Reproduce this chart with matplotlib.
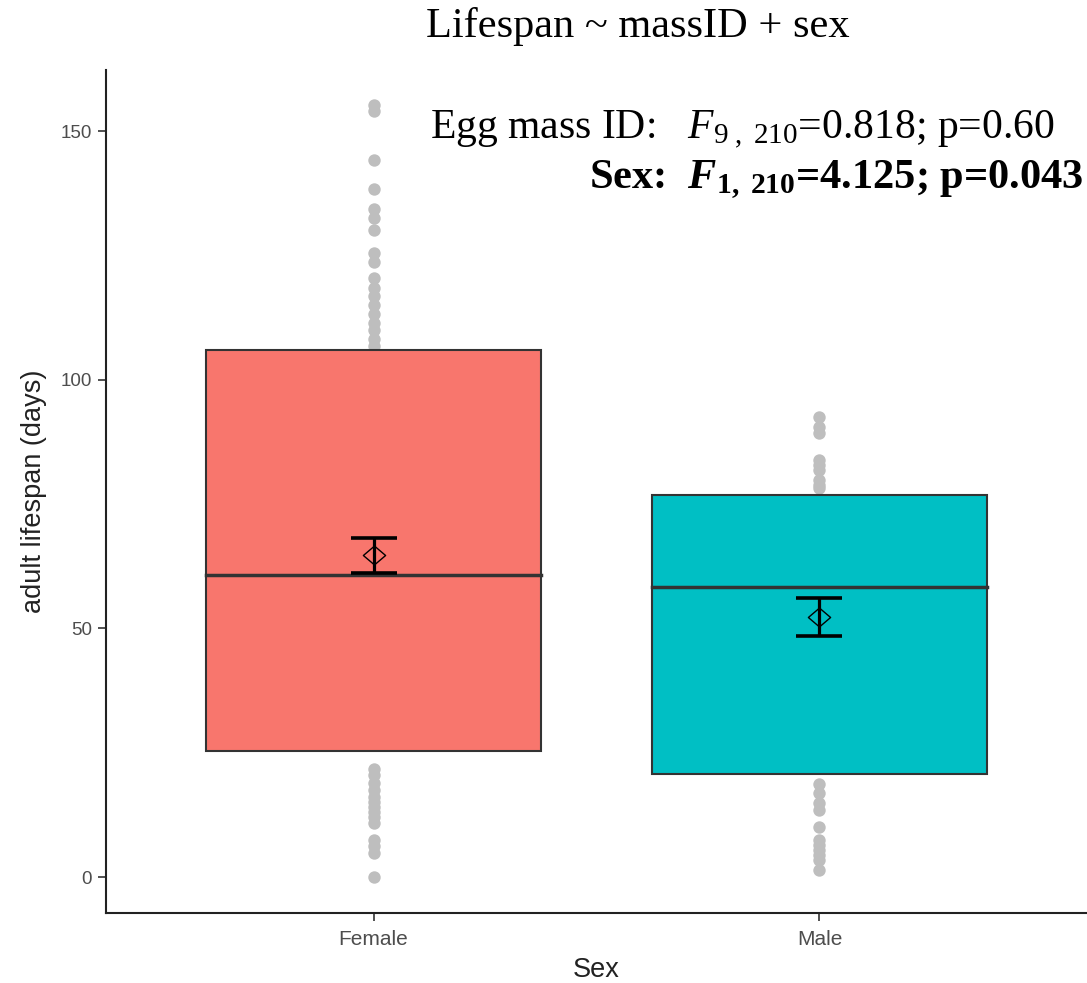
import matplotlib
matplotlib.use("Agg")
import matplotlib.pyplot as plt
from matplotlib.path import Path

plt.rcParams['font.family'] = ['Liberation Sans', 'DejaVu Sans']
plt.rcParams['mathtext.fontset'] = 'custom'
plt.rcParams['mathtext.rm'] = 'Liberation Serif'
plt.rcParams['mathtext.it'] = 'Liberation Serif:italic'
plt.rcParams['mathtext.bf'] = 'Liberation Serif:bold'
plt.rcParams['mathtext.bfit'] = 'Liberation Serif:italic:bold'

# data
sexes = ['Female', 'Male']
box_fill = ['#F8766D', '#00BFC4']
q1 = [25.3, 20.7]
median = [60.7, 58.3]
q3 = [106.0, 76.8]
mean = [64.7, 52.3]
se_low = [61.1, 48.5]
se_high = [68.2, 56.1]

# raw lifespans visible outside the boxes
female_pts = [155.2, 154.0, 144.3, 138.3, 134.4, 132.5, 130.2, 125.4, 123.7,
              120.4, 118.5, 116.8, 115.0, 113.2, 111.5, 110.0, 108.2, 106.8,
              21.8, 20.5, 18.9, 17.5, 16.0, 15.0, 14.0, 13.0, 12.0, 10.9,
              7.4, 6.2, 4.8, 0.0]
male_pts = [92.5, 90.5, 89.2, 83.8, 82.8, 81.8, 79.8, 78.9, 78.2,
            18.8, 16.9, 14.9, 13.5, 10.1, 7.4, 6.4, 5.4, 4.4, 3.4, 1.4]

# slightly flattened diamond like the reference
diamond = Path([(-1, 0), (0, 0.85), (1, 0), (0, -0.85), (-1, 0)],
               [Path.MOVETO, Path.LINETO, Path.LINETO, Path.LINETO, Path.CLOSEPOLY])

fig = plt.figure(figsize=(10.87, 9.83), dpi=100)
ax = fig.add_axes([106 / 1087, 70 / 983, 981 / 1087, 843 / 983])

xs = [1, 2]
for x, pts in zip(xs, [female_pts, male_pts]):
    ax.scatter([x] * len(pts), pts, s=80, color='#BEBEBE', zorder=1, linewidths=0)

ax.bar(xs, [b - a for a, b in zip(q1, q3)], bottom=q1, width=0.75,
       color=box_fill, edgecolor='#333333', linewidth=1.5, zorder=2)
for x, m in zip(xs, median):
    ax.plot([x - 0.375, x + 0.375], [m, m], color='#333333', lw=2.5, zorder=3)

for x, m, lo, hi in zip(xs, mean, se_low, se_high):
    ax.errorbar(x, m, yerr=[[m - lo], [hi - m]], fmt='none', ecolor='black',
                elinewidth=2.3, capsize=16.5, capthick=2.6, zorder=4)
    ax.plot(x, m, marker=diamond, markersize=16, mfc='none', mec='black',
            mew=1.0, zorder=5)

ax.set_xlim(0.4, 2.6)
ax.set_ylim(-7.24, 162.3)
ax.set_xticks(xs)
ax.set_xticklabels(sexes)
ax.set_yticks([0, 50, 100, 150])
ax.tick_params(colors='#333333', labelcolor='#4D4D4D', length=6, width=1.2)
ax.tick_params(axis='x', labelsize=15, pad=6)
ax.tick_params(axis='y', labelsize=13.5, pad=4)
for s in ['top', 'right']:
    ax.spines[s].set_visible(False)
for s in ['left', 'bottom']:
    ax.spines[s].set_color('#222222')
    ax.spines[s].set_linewidth(1.5)
ax.set_xlabel('Sex', fontsize=19.5, color='#222222', labelpad=6)
ax.set_ylabel('adult lifespan (days)', fontsize=19.5, color='#222222', labelpad=10)

fig.text(638 / 1087, 1 - 27 / 983, 'Lifespan ~ massID + sex', family='Liberation Serif',
         fontsize=30.5, ha='center', va='center')
fig.text(1055 / 1087, 1 - 130 / 983, r'Egg mass ID:   $\mathit{F}_{9\ ,\ 210}$=0.818; p=0.60',
         family='Liberation Serif', fontsize=30, ha='right', va='center')
fig.text(1083 / 1087, 1 - 180 / 983, r'Sex:  $\mathbfit{F}_{\mathbf{1,\ 210}}$=4.125; p=0.043',
         family='Liberation Serif', fontweight='bold', fontsize=30.5, ha='right', va='center')

fig.savefig('out.png', dpi=100)
